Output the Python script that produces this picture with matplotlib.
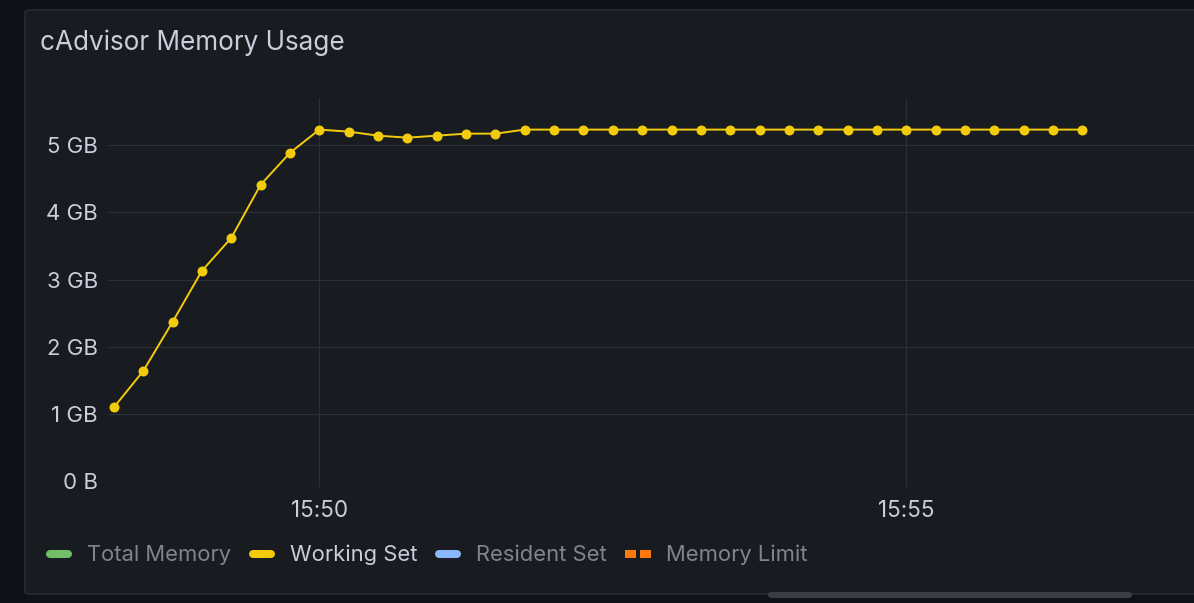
import matplotlib
matplotlib.use("Agg")
import matplotlib.pyplot as plt
import matplotlib.dates as mdates
from matplotlib.ticker import FuncFormatter, FixedLocator
from matplotlib.lines import Line2D
from matplotlib.patches import FancyBboxPatch
from matplotlib.transforms import IdentityTransform
from matplotlib.legend_handler import HandlerBase
import pandas as pd

# ---------------- data ----------------
title = "cAdvisor Memory Usage"
times = ["15:48:15", "15:48:30", "15:48:45", "15:49:00", "15:49:15", "15:49:30",
         "15:49:45", "15:50:00", "15:50:15", "15:50:30", "15:50:45", "15:51:00",
         "15:51:15", "15:51:30", "15:51:45", "15:52:00", "15:52:15", "15:52:30",
         "15:52:45", "15:53:00", "15:53:15", "15:53:30", "15:53:45", "15:54:00",
         "15:54:15", "15:54:30", "15:54:45", "15:55:00", "15:55:15", "15:55:30",
         "15:55:45", "15:56:00", "15:56:15", "15:56:30"]
working_set_gb = [1.10, 1.64, 2.37, 3.13, 3.62, 4.41, 4.885, 5.23, 5.20, 5.14,
                  5.11, 5.14, 5.17, 5.17, 5.23, 5.23, 5.23, 5.23, 5.23, 5.23,
                  5.23, 5.23, 5.23, 5.23, 5.23, 5.23, 5.23, 5.23, 5.23, 5.23,
                  5.23, 5.23, 5.23, 5.23]
legend_labels = ["Total Memory", "Working Set", "Resident Set", "Memory Limit"]
legend_colors = ["#73bf69", "#f2cc0c", "#8ab8ff", "#ff780a"]
legend_visible = [False, True, False, False]
y_ticks = [0, 1, 2, 3, 4, 5]
x_range = ["15:48:12", "15:57:27"]
day = "2024-01-01 "

# ---------------- style ----------------
W, H = 1194, 603
BG_OUT = "#111217"
BG_PANEL = "#181b1f"
BORDER = "#2b2e34"
GRID = "#2c2f35"
TEXT = "#ccccdc"
DIM = "#82848c"
FONT = ["Inter", "DejaVu Sans"]

plt.rcParams["font.family"] = FONT

fig = plt.figure(figsize=(W / 100, H / 100), dpi=100, facecolor=BG_OUT)

def py(y):  # convert top-based pixel y to display y
    return H - y

# panel
panel = FancyBboxPatch((25, py(594)), 1220, 584,
                       boxstyle="round,pad=0,rounding_size=3",
                       transform=IdentityTransform(), facecolor=BG_PANEL,
                       edgecolor=BORDER, linewidth=1.0, zorder=0)
fig.add_artist(panel)

# scrollbar
sb = FancyBboxPatch((768, py(598)), 364, 6,
                    boxstyle="round,pad=0,rounding_size=3",
                    transform=IdentityTransform(), facecolor="#3b3d44",
                    edgecolor="none", zorder=1)
fig.add_artist(sb)

# title
fig.text(40 / W, 1 - 49.5 / H, title, color=TEXT, fontsize=18.8,
         ha="left", va="baseline", family=FONT)

# axes
ax_l, ax_r, ax_t, ax_b = 108, 1194, 98, 481.3
ax = fig.add_axes([ax_l / W, 1 - ax_b / H, (ax_r - ax_l) / W, (ax_b - ax_t) / H])
ax.set_facecolor("none")
for s in ax.spines.values():
    s.set_visible(False)

t = pd.to_datetime([day + s for s in times])
ax.plot(t, working_set_gb, color=legend_colors[1], linewidth=1.4,
        marker="o", markersize=7.2, markeredgewidth=0, zorder=3)

ax.set_xlim(pd.Timestamp(day + x_range[0]), pd.Timestamp(day + x_range[1]))
ax.set_ylim(0, 5.70)

ax.yaxis.set_major_locator(FixedLocator(y_ticks))
ax.yaxis.set_major_formatter(FuncFormatter(lambda v, _: "0 B" if v == 0 else f"{v:g} GB"))
ax.xaxis.set_major_locator(mdates.MinuteLocator(byminute=range(0, 60, 5)))
ax.xaxis.set_major_formatter(mdates.DateFormatter("%H:%M"))

ax.grid(True, color=GRID, linewidth=0.8)
ax.tick_params(axis="y", length=0, pad=7.2, labelsize=16, labelcolor=TEXT)
ax.tick_params(axis="x", length=5, width=0.8, color=GRID, pad=8.5,
               labelsize=16.2, labelcolor=TEXT)

# legend
class RoundHandler(HandlerBase):
    def create_artists(self, legend, orig, xdescent, ydescent, width, height, fontsize, trans):
        lw = orig.get_linewidth()
        y = height / 2 - ydescent
        if orig.get_linestyle() == "-":
            r = lw / 2
            x0, x1 = -xdescent + r, -xdescent + width - r
            ln = Line2D([x0, x1], [y, y], color=orig.get_color(), linewidth=lw,
                        solid_capstyle="round", transform=trans)
        else:
            ln = Line2D([-xdescent, -xdescent + width], [y, y], color=orig.get_color(),
                        linewidth=lw, linestyle=(0, (1.375, 0.5)),
                        dash_capstyle="butt", transform=trans)
        return [ln]

handles = []
for i, c in enumerate(legend_colors):
    ls = "--" if legend_labels[i] == "Memory Limit" else "-"
    handles.append(Line2D([], [], color=c, linewidth=5.76, linestyle=ls))

fs_leg = 15.8
leg = fig.legend(handles, legend_labels, loc="center left",
                 bbox_to_anchor=(46 / W, 1 - 555 / H), ncol=4, frameon=False,
                 fontsize=fs_leg, handlelength=18.72 / fs_leg,
                 handletextpad=10.8 / fs_leg, columnspacing=12.8 / fs_leg,
                 borderpad=0, borderaxespad=0,
                 handler_map={Line2D: RoundHandler()})
for txt, vis in zip(leg.get_texts(), legend_visible):
    txt.set_color(TEXT if vis else DIM)

fig.savefig("out.png", dpi=100, facecolor=BG_OUT)
